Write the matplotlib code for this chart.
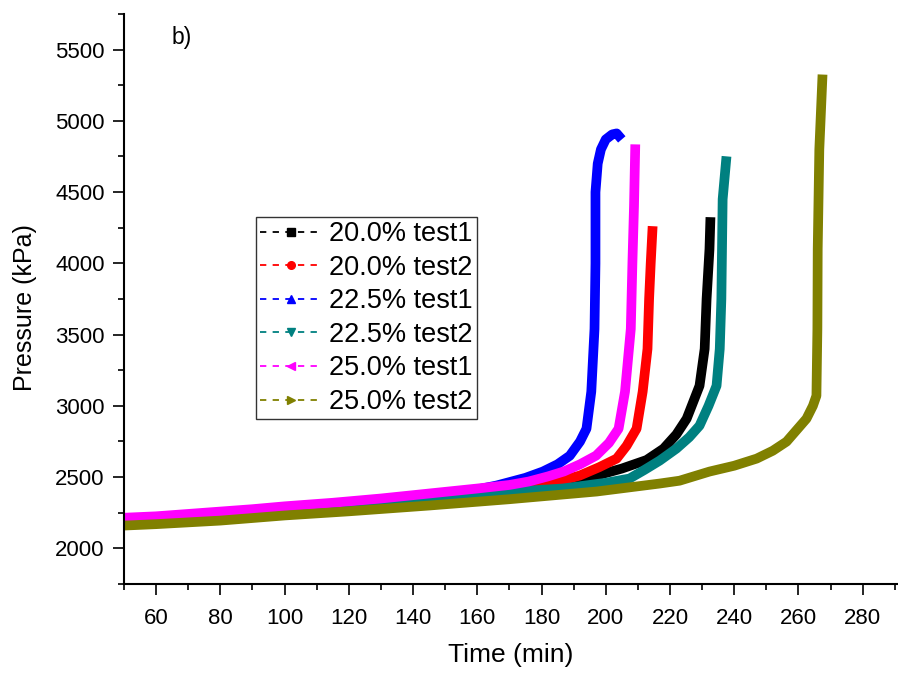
import matplotlib.pyplot as plt
from matplotlib.lines import Line2D
from matplotlib.ticker import MultipleLocator

plt.rcParams['font.family'] = ['Liberation Sans', 'DejaVu Sans']

# time (min) and pressure (kPa)
t_20_1 = [60, 80, 100, 120, 140, 160, 180, 197.2, 205, 212.7, 218, 222, 225.2, 229.2, 230.8, 231.4, 232.3, 232.6]
p_20_1 = [2195, 2225, 2255, 2285, 2320, 2370, 2440, 2511, 2560, 2620, 2700, 2800, 2910, 3141, 3400, 3750, 4100, 4324]

t_20_2 = [60, 80, 100, 120, 140, 160, 170, 179.4, 186, 191.9, 198, 203.4, 206.5, 209.6, 211.5, 213, 213.5, 214, 214.6]
p_20_2 = [2200, 2230, 2260, 2290, 2330, 2390, 2415, 2441, 2475, 2511, 2570, 2630, 2720, 2840, 3100, 3400, 3750, 4000, 4261]

t_22_1 = [60, 80, 100, 120, 140, 155, 166, 175, 180.4, 185, 188.8, 192, 194, 195.5, 196.5, 196.8, 196.8, 197.5, 198.5, 200, 202, 203.4, 205]
p_22_1 = [2200, 2225, 2260, 2290, 2340, 2390, 2441, 2495, 2539, 2590, 2650, 2750, 2840, 3100, 3540, 4000, 4500, 4700, 4800, 4870, 4905, 4912, 4870]

t_22_2 = [58, 70, 90, 110, 130, 145, 165, 186.6, 200, 207.4, 212, 216.8, 222, 226, 229.2, 232, 234.5, 235.5, 236, 236.4, 237.6]
p_22_2 = [2205, 2215, 2245, 2275, 2310, 2350, 2390, 2420, 2460, 2490, 2550, 2616, 2700, 2780, 2861, 3000, 3141, 3400, 3750, 4450, 4751]

t_25_1 = [50, 60, 75, 90, 100, 115, 130, 145, 160, 170, 176, 182, 187, 192, 197, 201, 204, 206, 207.8, 208.3, 208.8, 209.2]
p_25_1 = [2215, 2225, 2250, 2275, 2295, 2320, 2350, 2385, 2420, 2445, 2469, 2505, 2540, 2590, 2651, 2740, 2840, 3100, 3540, 4000, 4400, 4835]

t_25_2 = [50, 60, 80, 100, 120, 145.2, 170, 197.2, 216.8, 223, 232.3, 240, 247, 252, 256.3, 262.5, 264.5, 265.6, 265.9, 266, 266.5, 267.5]
p_25_2 = [2160, 2170, 2195, 2231, 2260, 2301, 2345, 2399, 2455, 2475, 2539, 2580, 2630, 2685, 2749, 2910, 3000, 3071, 3540, 4100, 4800, 5325]

labels = ['20.0% test1', '20.0% test2', '22.5% test1', '22.5% test2', '25.0% test1', '25.0% test2']
colors = ['black', '#ff0000', '#0000ff', '#008080', '#ff00ff', '#808000']
markers = ['s', 'o', '^', 'v', '<', '>']
series = [(t_20_1, p_20_1), (t_20_2, p_20_2), (t_22_1, p_22_1),
          (t_22_2, p_22_2), (t_25_1, p_25_1), (t_25_2, p_25_2)]

fig = plt.figure(figsize=(8.98, 6.77), dpi=100)
ax = fig.add_axes([124 / 898, 93 / 677, 1 - 124 / 898, 570 / 677])

for (t, p), c in zip(series, colors):
    ax.plot(t, p, color=c, lw=7, solid_capstyle='butt', solid_joinstyle='round')

ax.set_xlim(50, 291)
ax.set_ylim(1750, 5750)
ax.xaxis.set_minor_locator(MultipleLocator(10))
ax.yaxis.set_major_locator(MultipleLocator(500))
ax.yaxis.set_minor_locator(MultipleLocator(250))
ax.set_xticks(range(60, 281, 20))

for s in ['top', 'right']:
    ax.spines[s].set_visible(False)
for s in ['left', 'bottom']:
    ax.spines[s].set_linewidth(1.5)
ax.tick_params(which='major', direction='out', length=8, width=1.2, labelsize=16, pad=6)
ax.tick_params(which='minor', direction='out', length=4.5, width=1.2)
ax.tick_params(axis='x', pad=9)

ax.set_xlabel('Time (min)', fontsize=19)
ax.set_ylabel('Pressure (kPa)', fontsize=18)
ax.xaxis.set_label_coords(0.5, (584 - 643) / 570)
ax.yaxis.set_label_coords((37 - 124) / 774, (584 - 308) / 570)
fig.text(172 / 898, 1 - 44 / 677, 'b)', fontsize=16.5)

handles = [Line2D([], [], color=c, ls=(0, (3.5, 3.5)), lw=1.3, marker=m, ms=5.5)
           for c, m in zip(colors, markers)]
leg = fig.legend(handles, labels, loc='upper left', bbox_to_anchor=(256 / 898, 1 - 217 / 677),
                 fontsize=19.5, frameon=True, fancybox=False, edgecolor='black',
                 handlelength=2.3, handletextpad=0.25, labelspacing=0.28, borderpad=0.15,
                 borderaxespad=0)
leg.get_frame().set_linewidth(1)

fig.savefig('out.png', dpi=100)
